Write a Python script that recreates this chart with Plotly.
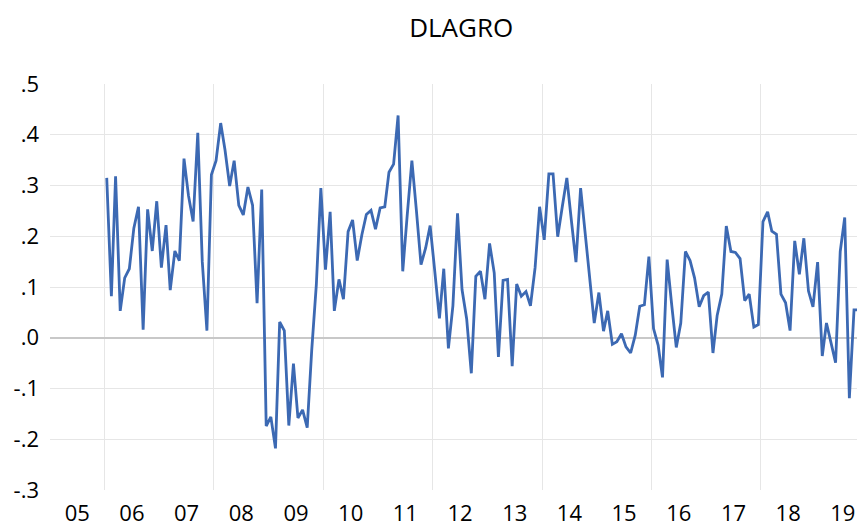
import pandas as pd
import plotly.graph_objects as go

# Monthly DLAGRO values, starting January 2006
start_month = "2006-01-01"
dlagro = [
    0.315, 0.082, 0.318, 0.053, 0.118, 0.136, 0.216, 0.258, 0.016, 0.253, 0.171, 0.269,
    0.138, 0.222, 0.094, 0.171, 0.152, 0.353, 0.280, 0.229, 0.404, 0.150, 0.014, 0.321,
    0.349, 0.423, 0.370, 0.299, 0.349, 0.261, 0.242, 0.297, 0.261, 0.068, 0.292, -0.174,
    -0.156, -0.218, 0.031, 0.014, -0.173, -0.051, -0.158, -0.142, -0.177, -0.025, 0.105, 0.295,
    0.134, 0.248, 0.053, 0.115, 0.076, 0.209, 0.232, 0.152, 0.203, 0.243, 0.251, 0.214,
    0.256, 0.258, 0.326, 0.342, 0.438, 0.131, 0.242, 0.349, 0.248, 0.144, 0.177, 0.221,
    0.131, 0.038, 0.136, -0.021, 0.063, 0.245, 0.095, 0.037, -0.070, 0.121, 0.131, 0.076,
    0.186, 0.128, -0.038, 0.113, 0.115, -0.056, 0.106, 0.082, 0.091, 0.063, 0.138, 0.258,
    0.193, 0.323, 0.323, 0.199, 0.257, 0.315, 0.232, 0.149, 0.295, 0.206, 0.115, 0.029,
    0.089, 0.013, 0.053, -0.013, -0.008, 0.008, -0.018, -0.030, 0.005, 0.062, 0.065, 0.160,
    0.018, -0.015, -0.078, 0.154, 0.066, -0.019, 0.029, 0.170, 0.152, 0.118, 0.061, 0.083,
    0.090, -0.030, 0.044, 0.086, 0.220, 0.170, 0.168, 0.156, 0.073, 0.086, 0.021, 0.026,
    0.229, 0.248, 0.210, 0.204, 0.086, 0.069, 0.014, 0.191, 0.125, 0.196, 0.092, 0.061,
    0.149, -0.036, 0.029, -0.010, -0.049, 0.170, 0.237, -0.119, 0.055, 0.055,
]

years = list(range(2005, 2020))
year_labels = ["05", "06", "07", "08", "09", "10", "11", "12", "13", "14", "15", "16", "17", "18", "19"]
grid_years = [2006, 2008, 2010, 2012, 2014, 2016, 2018]

y_ticks = [0.5, 0.4, 0.3, 0.2, 0.1, 0.0, -0.1, -0.2, -0.3]
y_tick_labels = [".5", ".4", ".3", ".2", ".1", ".0", "-.1", "-.2", "-.3"]
y_grid = [0.4, 0.3, 0.2, 0.1, -0.1, -0.2]

# observations plotted at the middle of each month
dates = pd.date_range(start_month, periods=len(dlagro), freq="MS") + pd.Timedelta(days=14)

fig = go.Figure()
fig.add_trace(go.Scatter(
    x=dates, y=dlagro, mode="lines",
    line=dict(color="#3c69b3", width=2.8),
    showlegend=False, hoverinfo="skip",
))

font_family = "Open Sans"

fig.update_layout(
    width=857, height=527,
    margin=dict(l=50, r=0, t=84, b=33),
    paper_bgcolor="white", plot_bgcolor="white",
    font=dict(family=font_family, size=22, color="black"),
    title=dict(text="DLAGRO", x=0.5095, xref="paper", xanchor="center",
               y=1 - 28 / 527, yref="container", yanchor="middle",
               font=dict(family=font_family, size=26, color="black")),
    xaxis=dict(
        type="date",
        range=["2005-01-01", "2019-10-05"],
        tickmode="array",
        tickvals=[f"{y}-07-02" for y in years],
        ticktext=year_labels,
        showgrid=False, showline=False, zeroline=False, ticks="",
        ticklabelstandoff=8,
        minor=dict(tickmode="array", tickvals=[f"{y}-01-01" for y in grid_years],
                   showgrid=True, gridcolor="#e6e6e6", gridwidth=1, ticks=""),
    ),
    yaxis=dict(
        range=[-0.3, 0.5],
        tickmode="array", tickvals=y_ticks, ticktext=y_tick_labels,
        showgrid=False, showline=False, ticks="",
        zeroline=True, zerolinecolor="#c8c8c8", zerolinewidth=1.5,
        ticklabelstandoff=10,
        minor=dict(tickmode="array", tickvals=y_grid,
                   showgrid=True, gridcolor="#e6e6e6", gridwidth=1, ticks=""),
    ),
)

fig.write_html("out.html", config={"displayModeBar": False},
               post_script="document.body.style.margin='0';")
